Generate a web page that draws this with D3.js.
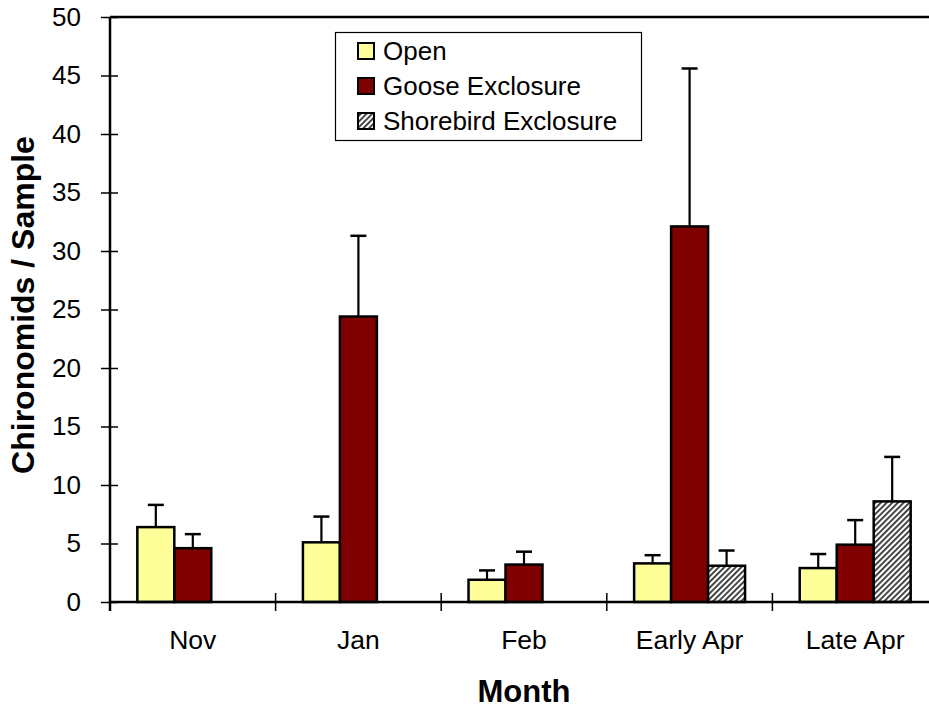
<!DOCTYPE html>
<html>
<head>
<meta charset="utf-8">
<script src="https://cdn.jsdelivr.net/npm/d3@7/dist/d3.min.js"></script>
<style>
  html, body { margin: 0; padding: 0; background: #fff; }
  svg { display: block; font-family: "Liberation Sans", Arial, sans-serif; }
</style>
</head>
<body>
<svg id="chart" width="929" height="708"></svg>
<script>
// Sampling periods along the x axis
const months = ["Nov", "Jan", "Feb", "Early Apr", "Late Apr"];
// Treatments (bars within each month)
const treatments = ["Open", "Goose Exclosure", "Shorebird Exclosure"];
// Mean chironomids per sample
const openMean      = [6.4, 5.1, 1.9, 3.3, 2.9];
const gooseMean     = [4.6, 24.4, 3.2, 32.1, 4.9];
const shorebirdMean = [0, 0, 0, 3.1, 8.6];
// Upper error (mean + 1 SE)
const openUpper      = [8.3, 7.3, 2.7, 4.0, 4.1];
const gooseUpper     = [5.8, 31.3, 4.3, 45.6, 7.0];
const shorebirdUpper = [null, null, null, 4.4, 12.4];
// Y axis ticks
const yTicks = [0, 5, 10, 15, 20, 25, 30, 35, 40, 45, 50];

const means = [openMean, gooseMean, shorebirdMean];
const uppers = [openUpper, gooseUpper, shorebirdUpper];

const svg = d3.select("#chart");
const plotL = 110, plotR = 938, plotT = 17, plotB = 602;

// Diagonal hatch for shorebird exclosure
const defs = svg.append("defs");
const pat = defs.append("pattern")
  .attr("id", "hatch")
  .attr("patternUnits", "userSpaceOnUse")
  .attr("width", 4).attr("height", 4)
  .attr("patternTransform", "rotate(45)");
pat.append("rect").attr("width", 4).attr("height", 4).attr("fill", "#fff");
pat.append("rect").attr("x", 0).attr("y", 0).attr("width", 1.8).attr("height", 4).attr("fill", "#333");

const fills = ["#FFFF99", "#800000", "url(#hatch)"];

const y = d3.scaleLinear().domain([0, 50]).range([plotB, plotT]);
const x0 = d3.scaleBand().domain(months).range([plotL, plotR])
  .paddingInner(0.33).paddingOuter(0.165);
const x1 = d3.scaleBand().domain(treatments).range([0, x0.bandwidth()]);

// Plot frame top line
svg.append("line")
  .attr("x1", plotL).attr("x2", plotR).attr("y1", plotT).attr("y2", plotT)
  .attr("stroke", "#000").attr("stroke-width", 2.5);

// Bars
const rows = months.map((m, i) => ({ m, vals: treatments.map((t, j) => ({ t, j, v: means[j][i], u: uppers[j][i] })) }));

const groups = svg.append("g").selectAll("g").data(rows).join("g")
  .attr("transform", d => `translate(${x0(d.m)},0)`);

groups.selectAll("rect").data(d => d.vals).join("rect")
  .attr("x", d => x1(d.t))
  .attr("y", d => y(d.v))
  .attr("width", x1.bandwidth())
  .attr("height", d => y(0) - y(d.v))
  .attr("fill", d => fills[d.j])
  .attr("stroke", "#000")
  .attr("stroke-width", 2.5);

// Error bars (upper only)
const eb = groups.selectAll("g.err").data(d => d.vals.filter(v => v.u != null)).join("g").attr("class", "err");
eb.append("line")
  .attr("x1", d => x1(d.t) + x1.bandwidth() / 2)
  .attr("x2", d => x1(d.t) + x1.bandwidth() / 2)
  .attr("y1", d => y(d.v)).attr("y2", d => y(d.u))
  .attr("stroke", "#000").attr("stroke-width", 2.2);
eb.append("line")
  .attr("x1", d => x1(d.t) + x1.bandwidth() / 2 - 8)
  .attr("x2", d => x1(d.t) + x1.bandwidth() / 2 + 8)
  .attr("y1", d => y(d.u)).attr("y2", d => y(d.u))
  .attr("stroke", "#000").attr("stroke-width", 2.5);

// Y axis
const yAxis = svg.append("g").attr("transform", `translate(${plotL},0)`)
  .call(d3.axisLeft(y).tickValues(yTicks).tickSize(9).tickPadding(20).tickSizeOuter(0));
yAxis.select(".domain").attr("stroke-width", 2.5).attr("d", `M0,${plotT}V${plotB + 9}`);
yAxis.selectAll(".tick line").attr("x1", 8).attr("stroke-width", 1.5);
yAxis.selectAll(".tick text")
  .attr("font-size", 26).attr("font-family", "Liberation Sans, Arial, sans-serif").attr("fill", "#000");

// X axis with boundary ticks between months
const step = x0.step();
const bounds = d3.range(months.length + 1).map(i => plotL + i * step);
const xAxis = svg.append("g");
xAxis.append("line")
  .attr("x1", plotL).attr("x2", plotR).attr("y1", plotB).attr("y2", plotB)
  .attr("stroke", "#000").attr("stroke-width", 2.5);
xAxis.selectAll("line.bt").data(bounds.slice(1)).join("line").attr("class", "bt")
  .attr("x1", d => d).attr("x2", d => d)
  .attr("y1", plotB - 9).attr("y2", plotB + 9)
  .attr("stroke", "#000").attr("stroke-width", 1.5);
xAxis.selectAll("text").data(months).join("text")
  .attr("x", d => x0(d) + x0.bandwidth() / 2)
  .attr("y", 649)
  .attr("text-anchor", "middle")
  .attr("font-size", 26.5)
  .text(d => d);

// Axis titles
svg.append("text")
  .attr("x", 524).attr("y", 702)
  .attr("text-anchor", "middle")
  .attr("font-size", 31).attr("font-weight", "bold")
  .text("Month");
svg.append("text")
  .attr("transform", "translate(34,305) rotate(-90)")
  .attr("text-anchor", "middle")
  .attr("font-size", 32).attr("font-weight", "bold")
  .text("Chironomids / Sample");

// Legend
const lg = svg.append("g");
lg.append("rect")
  .attr("x", 335.5).attr("y", 32.5).attr("width", 306).attr("height", 108)
  .attr("fill", "#fff").attr("stroke", "#000").attr("stroke-width", 1.2);
const li = lg.selectAll("g.item").data(treatments).join("g").attr("class", "item")
  .attr("transform", (d, i) => `translate(358,${51 + i * 35})`);
li.append("rect")
  .attr("x", 0).attr("y", -8).attr("width", 16).attr("height", 16)
  .attr("fill", (d, i) => fills[i]).attr("stroke", "#000").attr("stroke-width", 2);
li.append("text")
  .attr("x", 25).attr("y", 9)
  .attr("font-size", 26)
  .text(d => d);
</script>
</body>
</html>
